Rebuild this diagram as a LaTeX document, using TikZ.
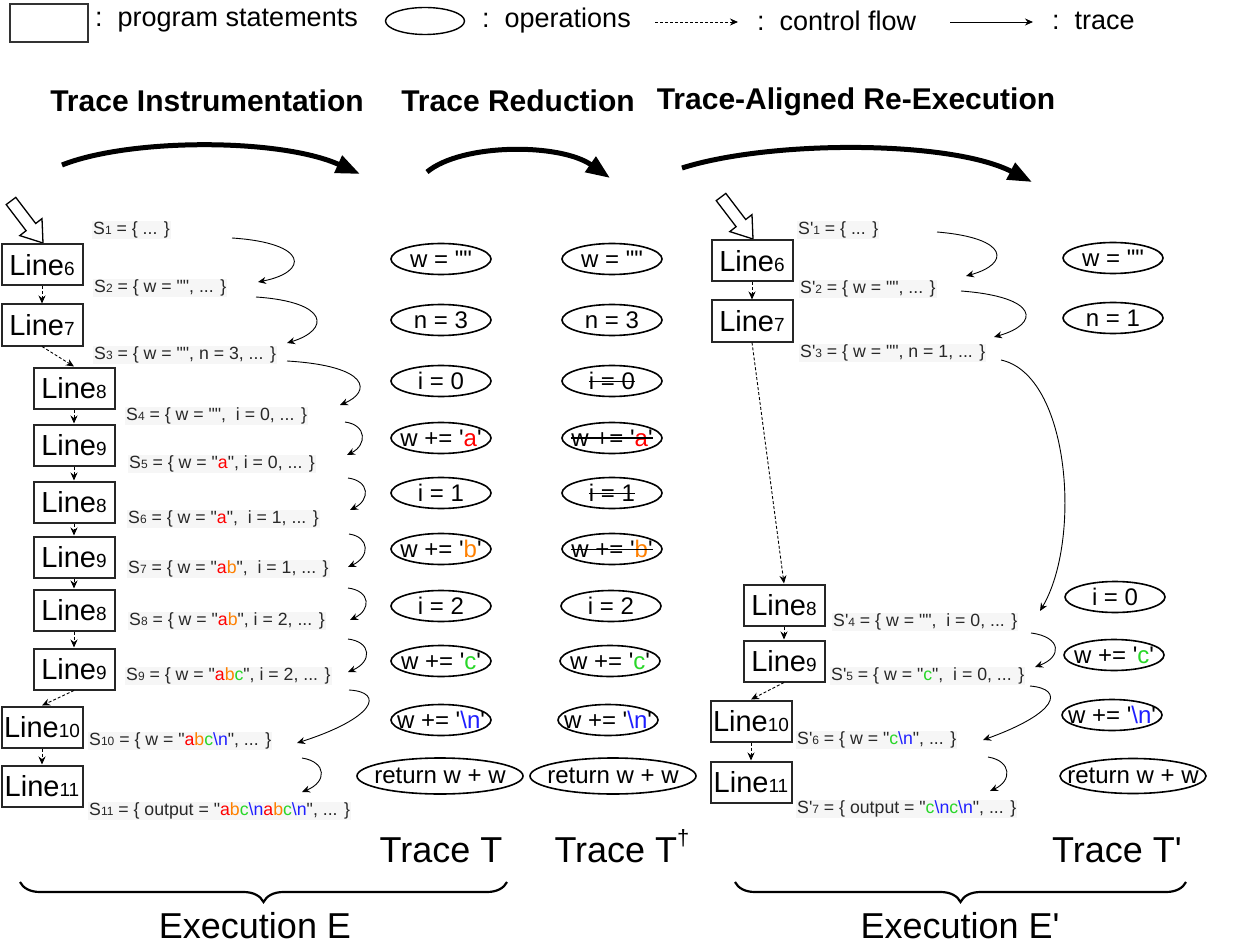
\documentclass[tikz,border=0pt]{standalone}
\usepackage{fontspec}
\newfontfamily\af{Liberation Sans}
\usetikzlibrary{arrows.meta,shapes.geometric,decorations.pathreplacing}
\definecolor{cr}{RGB}{255,0,0}
\definecolor{co}{RGB}{255,128,0}
\definecolor{cg}{RGB}{40,215,40}
\definecolor{cb}{RGB}{30,30,255}
\definecolor{lbg}{RGB}{246,246,246}
\definecolor{stxt}{RGB}{40,40,40}
\newcommand\fs[1]{\fontsize{#1}{#1}\selectfont}
\newcommand\lnum[1]{{\fs{19}#1}}
\newcommand\sidx[1]{{\fs{12}#1}}
\newcommand\strk[1]{\setbox0\hbox{#1}\copy0\llap{\rule[0.3em]{\wd0}{1.6pt}}}
\newcommand\ot[1]{\makebox[0pt]{#1}}
\newcommand\bs{\textbackslash}
\begin{document}
\begin{tikzpicture}[x=1pt,y=-1pt,
  stmt/.style={draw=black!85, line width=2pt, minimum width=81pt, minimum height=41pt, inner sep=0pt, font=\af\fs{29}},
  op/.style={ellipse, draw, line width=1.6pt, minimum width=100pt, minimum height=31pt, inner sep=0pt, font=\af\fs{24}},
  opw/.style={op, minimum width=166pt, minimum height=36pt},
  st/.style={fill=lbg, inner sep=1pt, anchor=west, text=stxt, font=\af\fs{17.7}},
  cf/.style={dash pattern=on 3pt off 2pt, line width=0.9pt, -{Stealth[length=8pt,width=7pt]}},
  tr/.style={line width=0.9pt, -{Stealth[length=8pt,width=7pt]}},
  big/.style={line width=5pt, -{Triangle[length=24pt,width=18pt]}},
  hd/.style={font=\af\bfseries\fs{30}},
  lgt/.style={font=\af\fs{27}, anchor=west, inner sep=0pt},
  bigt/.style={font=\af\fs{36}, anchor=base, inner sep=0pt},
  brc/.style={decorate, decoration={brace, amplitude=20pt}, line width=2.2pt},
  hol/.style={draw, line width=1.3pt, fill=white, line join=miter}
]
\fill[white] (0,0) rectangle (1236,949);
\useasboundingbox (0,0) rectangle (1236,949);

% ---------- legend ----------
\node[draw=black!80, line width=1.4pt, minimum width=78pt, minimum height=38pt, inner sep=0pt] (lgbox) at (49,23) {};
\node[lgt] (lgboxt) at (95,21) {:\ \ program statements};
\node[ellipse, draw, line width=1.4pt, minimum width=79pt, minimum height=27pt, inner sep=0pt] (lgell) at (425,21) {};
\node[lgt] (lgellt) at (482,21) {:\ \ operations};
\coordinate (lgc1) at (655,22); \coordinate (lgc2) at (738,22);
\draw[cf] (lgc1) -- (lgc2);
\node[lgt] (lgcft) at (757,21) {:\ \ control flow};
\coordinate (lgt1) at (950,22); \coordinate (lgt2) at (1033,22);
\draw[tr] (lgt1) -- (lgt2);
\node[lgt] (lgtrt) at (1052,21) {:\ \ trace};

% ---------- headings and phase arrows ----------
\node[hd] (h1) at (207,101) {Trace Instrumentation};
\node[hd] (h2) at (518,101) {Trace Reduction};
\node[hd] (h3) at (856,102) {Trace-Aligned Re-Execution};
\coordinate (ba1s) at (62,165); \coordinate (ba1e) at (360,174);
\draw[big] (ba1s) .. controls (130,138) and (280,138) .. (ba1e);
\coordinate (ba2s) at (427,172); \coordinate (ba2e) at (610,178);
\draw[big] (ba2s) .. controls (462,143) and (560,143) .. (ba2e);
\coordinate (ba3s) at (682,168); \coordinate (ba3e) at (1032,182);
\draw[big] (ba3s) .. controls (770,140) and (950,140) .. (ba3e);

% ---------- entry arrows ----------
\draw[hol] (15.8,197.4) -- (35.7,223.5) -- (42.0,218.6) -- (43,243) -- (19.8,235.6) -- (26.1,230.7) -- (6.2,204.6) -- cycle;
\draw[hol] (725.8,193.4) -- (745.7,219.5) -- (752.0,214.6) -- (753,239) -- (729.8,231.6) -- (736.1,226.7) -- (716.2,200.6) -- cycle;

% ---------- execution E : statements ----------
\node[stmt] (l6)  at (42,265)  {Line\lnum{6}};
\node[stmt] (l7)  at (42,325)  {Line\lnum{7}};
\node[stmt] (l8a) at (74,388)  {Line\lnum{8}};
\node[stmt] (l9a) at (74,445)  {Line\lnum{9}};
\node[stmt] (l8b) at (74,502)  {Line\lnum{8}};
\node[stmt] (l9b) at (74,557)  {Line\lnum{9}};
\node[stmt] (l8c) at (74,610)  {Line\lnum{8}};
\node[stmt] (l9c) at (74,669)  {Line\lnum{9}};
\node[stmt] (l10) at (42,727)  {Line\lnum{10}};
\node[stmt] (l11) at (42,786)  {Line\lnum{11}};
\draw[cf] (l6) -- (l7);
\draw[cf] (l7.south) -- (l8a.north);
\draw[cf] (l8a) -- (l9a);
\draw[cf] (l9a) -- (l8b);
\draw[cf] (l8b) -- (l9b);
\draw[cf] (l9b) -- (l8c);
\draw[cf] (l8c) -- (l9c);
\draw[cf] (l9c.south) -- (l10.north);
\draw[cf] (l10) -- (l11);

% ---------- execution E : states ----------
\node[st] (s1)  at (92,230)  {S\sidx{1} = \{ ... \}};
\node[st] (s2)  at (93,288)  {S\sidx{2} = \{ w = "", ... \}};
\node[st] (s3)  at (93,355)  {S\sidx{3} = \{ w = "", n = 3, ... \}};
\node[st] (s4)  at (125,416) {S\sidx{4} = \{ w = "",\ \ i = 0, ... \}};
\node[st] (s5)  at (128,464) {S\sidx{5} = \{ w = "\textcolor{cr}{a}", i = 0, ... \}};
\node[st] (s6)  at (127,519) {S\sidx{6} = \{ w = "\textcolor{cr}{a}",\ \ i = 1, ... \}};
\node[st] (s7)  at (127,569) {S\sidx{7} = \{ w = "\textcolor{cr}{a}\textcolor{co}{b}",\ \ i = 1, ... \}};
\node[st] (s8)  at (128,621) {S\sidx{8} = \{ w = "\textcolor{cr}{a}\textcolor{co}{b}", i = 2, ... \}};
\node[st] (s9)  at (125,676) {S\sidx{9} = \{ w = "\textcolor{cr}{a}\textcolor{co}{b}\textcolor{cg}{c}", i = 2, ... \}};
\node[st] (s10) at (88,741)  {S\sidx{10} = \{ w = "\textcolor{cr}{a}\textcolor{co}{b}\textcolor{cg}{c}\textcolor{cb}{\bs n}", ... \}};
\node[st] (s11) at (88,811)  {S\sidx{11} = \{ output = "\textcolor{cr}{a}\textcolor{co}{b}\textcolor{cg}{c}\textcolor{cb}{\bs n}\textcolor{cr}{a}\textcolor{co}{b}\textcolor{cg}{c}\textcolor{cb}{\bs n}", ... \}};

% trace arrows E
\coordinate (a1s) at (232,238); \coordinate (a1e) at (258,282);
\draw[tr] (a1s) .. controls (309,243) and (309,272) .. (a1e);
\coordinate (a2s) at (256,297); \coordinate (a2e) at (287,343);
\draw[tr] (a2s) .. controls (330,302) and (330,330) .. (a2e);
\coordinate (a3s) at (287,361); \coordinate (a3e) at (340,405);
\draw[tr] (a3s) .. controls (371,366) and (371,392) .. (a3e);
\coordinate (a4s) at (345,422); \coordinate (a4e) at (347,455);
\draw[tr] (a4s) .. controls (367,425) and (367,445) .. (a4e);
\coordinate (a5s) at (348,478); \coordinate (a5e) at (350,510);
\draw[tr] (a5s) .. controls (370,481) and (370,500) .. (a5e);
\coordinate (a6s) at (349,534); \coordinate (a6e) at (348,567);
\draw[tr] (a6s) .. controls (370,537) and (370,557) .. (a6e);
\coordinate (a7s) at (348,588); \coordinate (a7e) at (350,620);
\draw[tr] (a7s) .. controls (371,591) and (371,610) .. (a7e);
\coordinate (a8s) at (348,639); \coordinate (a8e) at (348,672);
\draw[tr] (a8s) .. controls (372,642) and (372,662) .. (a8e);
\coordinate (a9s) at (349,690); \coordinate (a9e) at (297,743);
\draw[tr] (a9s) .. controls (385,692) and (375,718) .. (a9e);
\coordinate (a10s) at (302,758); \coordinate (a10e) at (302,792);
\draw[tr] (a10s) .. controls (327,762) and (327,782) .. (a10e);

% ---------- trace T ----------
\node[op] (t1) at (441,259) {\ot{w = ""}};
\node[op] (t2) at (441,320) {\ot{n = 3}};
\node[op] (t3) at (441,381) {\ot{i = 0}};
\node[op] (t4) at (441,438) {\ot{w += '\textcolor{cr}{a}'}};
\node[op] (t5) at (441,493) {\ot{i = 1}};
\node[op] (t6) at (441,549) {\ot{w += '\textcolor{co}{b}'}};
\node[op] (t7) at (441,606) {\ot{i = 2}};
\node[op] (t8) at (441,661) {\ot{w += '\textcolor{cg}{c}'}};
\node[op] (t9) at (441,720) {\ot{w += '\textcolor{cb}{\bs n}'}};
\node[opw] (t10) at (440,776) {\ot{return w + w}};
\node[bigt] (tT) at (441,862) {Trace T};

% ---------- trace T dagger ----------
\node[op] (d1) at (612,259) {\ot{w = ""}};
\node[op] (d2) at (612,320) {\ot{n = 3}};
\node[op] (d3) at (612,381) {\ot{\strk{i = 0}}};
\node[op] (d4) at (612,438) {\ot{\strk{w += '\textcolor{cr}{a}'}}};
\node[op] (d5) at (612,493) {\ot{\strk{i = 1}}};
\node[op] (d6) at (612,549) {\ot{\strk{w += '\textcolor{co}{b}'}}};
\node[op] (d7) at (611,606) {\ot{i = 2}};
\node[op] (d8) at (610,661) {\ot{w += '\textcolor{cg}{c}'}};
\node[op] (d9) at (608,720) {\ot{w += '\textcolor{cb}{\bs n}'}};
\node[opw] (d10) at (613,776) {\ot{return w + w}};
\node[bigt] (tD) at (622,862) {Trace T\raisebox{0.45em}{\fs{22}†}};

% ---------- execution E' : statements ----------
\node[stmt] (r6)  at (752,261) {Line\lnum{6}};
\node[stmt] (r7)  at (752,321) {Line\lnum{7}};
\node[stmt] (r8)  at (784,605) {Line\lnum{8}};
\node[stmt] (r9)  at (784,661) {Line\lnum{9}};
\node[stmt] (r10) at (751,721) {Line\lnum{10}};
\node[stmt] (r11) at (751,782) {Line\lnum{11}};
\draw[cf] (r6) -- (r7);
\draw[cf] (r7.south) -- (r8.north);
\draw[cf] (r8) -- (r9);
\draw[cf] (r9.south) -- (r10.north);
\draw[cf] (r10) -- (r11);

% ---------- execution E' : states ----------
\node[st] (q1) at (797,230) {S'\sidx{1} = \{ ... \}};
\node[st] (q2) at (799,289) {S'\sidx{2} = \{ w = "", ... \}};
\node[st] (q3) at (799,353) {S'\sidx{3} = \{ w = "", n = 1, ... \}};
\node[st] (q4) at (832,622) {S'\sidx{4} = \{ w = "",\ \ i = 0, ... \}};
\node[st] (q5) at (830,676) {S'\sidx{5} = \{ w = "\textcolor{cg}{c}",\ \ i = 0, ... \}};
\node[st] (q6) at (796,740) {S'\sidx{6} = \{ w = "\textcolor{cg}{c}\textcolor{cb}{\bs n}", ... \}};
\node[st] (q7) at (796,809) {S'\sidx{7} = \{ output = "\textcolor{cg}{c}\textcolor{cb}{\bs n}\textcolor{cg}{c}\textcolor{cb}{\bs n}", ... \}};

% trace arrows E'
\coordinate (b1s) at (937,232); \coordinate (b1e) at (966,276);
\draw[tr] (b1s) .. controls (1010,238) and (1010,264) .. (b1e);
\coordinate (b2s) at (961,291); \coordinate (b2e) at (994,337);
\draw[tr] (b2s) .. controls (1040,297) and (1040,324) .. (b2e);
\coordinate (b3s) at (1001,360); \coordinate (b3e) at (1040,611);
\draw[tr] (b3s) .. controls (1070,375) and (1082,540) .. (b3e);
\coordinate (b4s) at (1031,633); \coordinate (b4e) at (1035,667);
\draw[tr] (b4s) .. controls (1062,637) and (1062,657) .. (b4e);
\coordinate (b5s) at (1030,686); \coordinate (b5e) at (983,740);
\draw[tr] (b5s) .. controls (1065,689) and (1058,713) .. (b5e);
\coordinate (b6s) at (988,757); \coordinate (b6e) at (990,791);
\draw[tr] (b6s) .. controls (1012,761) and (1012,781) .. (b6e);

% ---------- trace T' ----------
\node[op] (p1) at (1113,258) {\ot{w = ""}};
\node[op] (p2) at (1113,318) {\ot{n = 1}};
\node[op] (p3) at (1115,597) {\ot{i = 0}};
\node[op] (p4) at (1114,655) {\ot{w += '\textcolor{cg}{c}'}};
\node[op] (p5) at (1112,715) {\ot{w += '\textcolor{cb}{\bs n}'}};
\node[op, minimum width=146pt, minimum height=35pt] (p6) at (1133,776) {\ot{return w + w}};
\node[bigt] (tP) at (1117,862) {Trace T'};

% ---------- braces ----------
\coordinate (brL1) at (507,882); \coordinate (brL2) at (20,882);
\draw[brc] (brL1) -- (brL2);
\coordinate (brR1) at (1186,882); \coordinate (brR2) at (735,882);
\draw[brc] (brR1) -- (brR2);
\node[bigt] (eE) at (255,938) {Execution E};
\node[bigt] (eP) at (960,938) {Execution E'};
\end{tikzpicture}
\end{document}
